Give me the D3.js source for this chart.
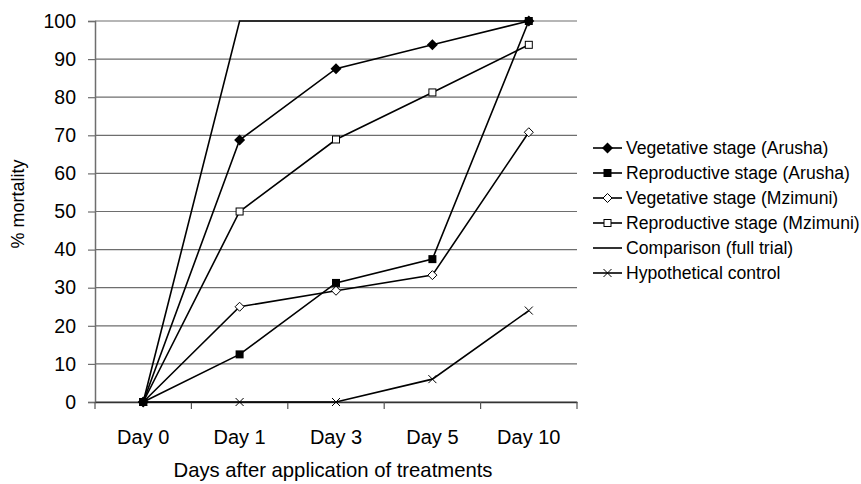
<!DOCTYPE html>
<html><head><meta charset="utf-8">
<script src="https://cdn.jsdelivr.net/npm/d3@7"></script>
<style>body{margin:0;background:#fff}svg{display:block}text{font-family:"Liberation Sans",Arial,sans-serif;fill:#000}</style>
</head><body>
<svg id="c" width="861" height="484"></svg>
<script>
const days = ["Day 0","Day 1","Day 3","Day 5","Day 10"];
const yTicks = [0,10,20,30,40,50,60,70,80,90,100];
const vegArusha = [0, 68.75, 87.5, 93.75, 100];
const repArusha = [0, 12.5, 31.25, 37.5, 100];
const vegMzimuni = [0, 25, 29.2, 33.3, 70.8];
const repMzimuni = [0, 50, 68.9, 81.25, 93.75];
const comparison = [0, 100, 100, 100, 100];
const control = [0, 0, 0, 6, 24];
const seriesNames = ["Vegetative stage (Arusha)","Reproductive stage (Arusha)","Vegetative stage (Mzimuni)","Reproductive stage (Mzimuni)","Comparison (full trial)","Hypothetical control"];
const seriesData = [vegArusha, repArusha, vegMzimuni, repMzimuni, comparison, control];
const markers = ["diamondFilled","squareFilled","diamondOpen","squareOpen","none","cross"];

const svg = d3.select("#c");
const L = 95, R = 577, T = 21, B = 402;
const x = d3.scaleBand().domain(days).range([L, R]);
const y = d3.scaleLinear().domain([0, 100]).range([B, T]);

// gridlines
svg.append("g").selectAll("line").data(yTicks).join("line")
  .attr("x1", L).attr("x2", R).attr("y1", d => y(d)).attr("y2", d => y(d))
  .attr("stroke", "#6e6e6e").attr("stroke-width", 1.2);

// y axis
const ya = svg.append("g").attr("transform", `translate(${L},0)`)
  .call(d3.axisLeft(y).tickValues(yTicks).tickSize(7).tickPadding(12));
ya.select(".domain").attr("stroke", "#6e6e6e").attr("stroke-width", 1.5);
ya.selectAll(".tick line").attr("stroke", "#6e6e6e").attr("stroke-width", 1.2);
ya.selectAll("text").attr("font-size", 19.5).attr("fill", "#000").attr("font-family", "Liberation Sans");

// x axis
const xa = svg.append("g").attr("transform", `translate(0,${B})`)
  .call(d3.axisBottom(x).tickSize(0).tickPadding(28));
xa.select(".domain").attr("stroke", "#333").attr("stroke-width", 1.5);
xa.selectAll("text").attr("font-size", 20).attr("fill", "#000").attr("font-family", "Liberation Sans");
// boundary ticks
const bounds = days.map(d => x(d)).concat([R]);
svg.append("g").selectAll("line").data(bounds).join("line")
  .attr("x1", d => d).attr("x2", d => d).attr("y1", B).attr("y2", B + 7)
  .attr("stroke", "#555").attr("stroke-width", 1.2);

// axis titles
svg.append("text").attr("x", 333).attr("y", 477).attr("text-anchor", "middle")
  .attr("font-size", 20.3).text("Days after application of treatments");
svg.append("text").attr("transform", `translate(24,204) rotate(-90)`).attr("text-anchor", "middle")
  .attr("font-size", 18).text("% mortality");

const cx = d => x(d) + x.bandwidth() / 2;
const line = d3.line().x((v, i) => cx(days[i])).y(v => y(v));

function drawMarker(g, type, px, py) {
  if (type === "diamondFilled") g.append("path").attr("d", `M${px},${py-5.5}L${px+5.5},${py}L${px},${py+5.5}L${px-5.5},${py}Z`).attr("fill", "#000");
  else if (type === "diamondOpen") g.append("path").attr("d", `M${px},${py-4.5}L${px+4.5},${py}L${px},${py+4.5}L${px-4.5},${py}Z`).attr("fill", "#fff").attr("stroke", "#000").attr("stroke-width", 1);
  else if (type === "squareFilled") g.append("rect").attr("x", px-4).attr("y", py-4).attr("width", 8).attr("height", 8).attr("fill", "#000");
  else if (type === "squareOpen") g.append("rect").attr("x", px-3.5).attr("y", py-3.5).attr("width", 7).attr("height", 7).attr("fill", "#fff").attr("stroke", "#000").attr("stroke-width", 1);
  else if (type === "cross") g.append("path").attr("d", `M${px-4},${py-4}L${px+4},${py+4}M${px-4},${py+4}L${px+4},${py-4}`).attr("stroke", "#000").attr("stroke-width", 1);
}

// draw series: lines first in reverse order so the first series is on top
const order = [5, 4, 3, 2, 1, 0];
order.forEach(s => {
  const g = svg.append("g");
  g.append("path").datum(seriesData[s]).attr("d", line).attr("fill", "none").attr("stroke", "#000").attr("stroke-width", 1.6);
  seriesData[s].forEach((v, i) => drawMarker(g, markers[s], cx(days[i]), y(v)));
});

// legend
const lg = svg.append("g");
seriesNames.forEach((n, i) => {
  const ly = 148 + i * 25;
  lg.append("line").attr("x1", 593).attr("x2", 622).attr("y1", ly).attr("y2", ly).attr("stroke", "#000").attr("stroke-width", 1.6);
  drawMarker(lg, markers[i], 607.5, ly);
  lg.append("text").attr("x", 626).attr("y", ly).attr("dy", "0.36em").attr("font-size", 17.6).text(n);
});
</script>
</body></html>
